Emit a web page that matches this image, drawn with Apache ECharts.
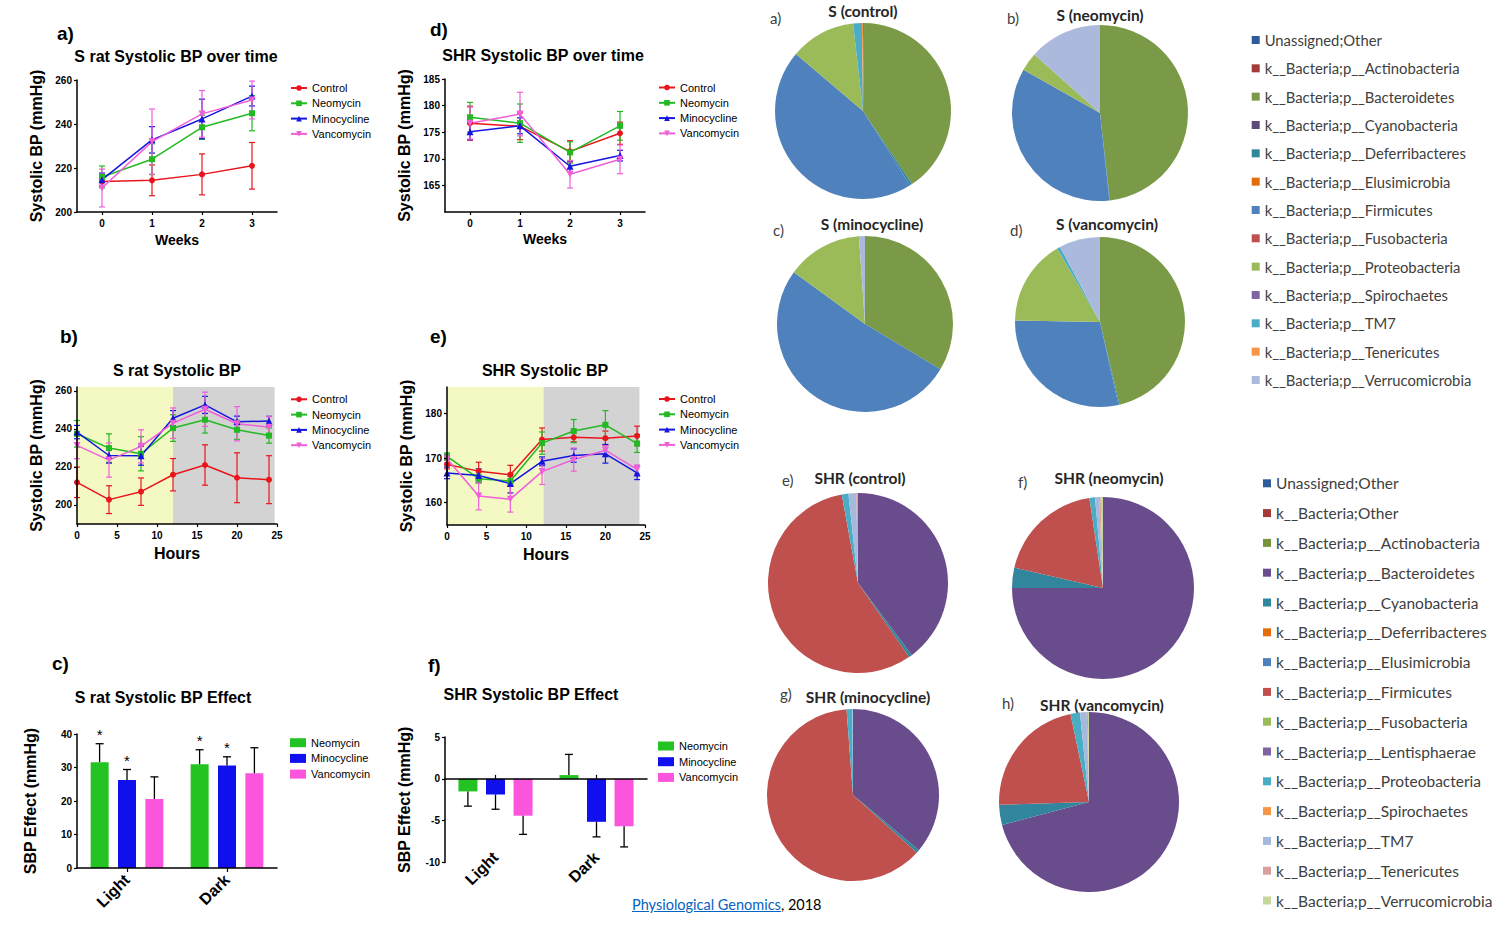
<!DOCTYPE html>
<html>
<head>
<meta charset="utf-8">
<title>Antibiotics, systolic BP and gut phyla in S and SHR rats</title>
<script src="https://cdn.jsdelivr.net/npm/echarts@6/dist/echarts.min.js"></script>
<style>
html, body { margin: 0; padding: 0; background: #fff; }
#page { position: relative; width: 1500px; height: 929px; overflow: hidden; }
.panel { position: absolute; }
#cite { position: absolute; left: 632px; top: 896px; font: 14.5px Lato, sans-serif; line-height: 18px; color: #000; white-space: nowrap; }
#cite a { color: #0563C1; text-decoration: underline; }
</style>
</head>
<body>
<div id="page">
  <div id="pa" class="panel" style="left:0;top:0;width:380px;height:300px"></div>
  <div id="pd" class="panel" style="left:380px;top:0;width:380px;height:300px"></div>
  <div id="pb" class="panel" style="left:0;top:300px;width:380px;height:330px"></div>
  <div id="pe" class="panel" style="left:380px;top:300px;width:380px;height:330px"></div>
  <div id="pc" class="panel" style="left:0;top:630px;width:380px;height:299px"></div>
  <div id="pf" class="panel" style="left:380px;top:630px;width:380px;height:260px"></div>
  <div id="pieS" class="panel" style="left:760px;top:0;width:740px;height:440px"></div>
  <div id="pieSHR" class="panel" style="left:760px;top:440px;width:740px;height:489px"></div>
  <div id="cite"><a href="#">Physiological Genomics</a>, 2018</div>
</div>
<script>
// ---------- data ----------
const drugs = ['Control', 'Neomycin', 'Minocycline', 'Vancomycin'];
const weeks = ['0', '1', '2', '3'];
const hours = [0, 4, 8, 12, 16, 20, 24];

// a) S rat systolic BP over time (mean, SEM)
const sWkControl = [213.9, 214.4, 217.1, 221.0];
const sWkControlErr = [2.0, 7.0, 9.3, 10.6];
const sWkNeomycin = [215.9, 224.0, 238.5, 244.9];
const sWkNeomycinErr = [5.0, 7.0, 5.5, 8.0];
const sWkMinocycline = [214.7, 232.8, 242.3, 252.7];
const sWkMinocyclineErr = [3.0, 6.0, 9.0, 4.5];
const sWkVancomycin = [210.9, 232.0, 244.6, 250.9];
const sWkVancomycinErr = [8.6, 14.8, 10.6, 8.6];

// d) SHR systolic BP over time
const shrWkControl = [176.7, 176.1, 171.4, 174.8];
const shrWkControlErr = [3.2, 2.5, 2.0, 2.1];
const shrWkNeomycin = [177.8, 176.7, 171.2, 176.2];
const shrWkNeomycinErr = [2.8, 3.6, 2.0, 2.7];
const shrWkMinocycline = [175.1, 176.2, 168.6, 170.6];
const shrWkMinocyclineErr = [1.5, 1.5, 1.0, 1.0];
const shrWkVancomycin = [176.7, 178.4, 167.1, 169.9];
const shrWkVancomycinErr = [3.0, 4.1, 2.6, 2.7];

// b) S rat systolic BP over 24 h
const sHrControl = [211.9, 202.8, 207.0, 215.9, 221.0, 214.3, 213.3];
const sHrControlErr = [8.0, 7.3, 7.2, 8.5, 10.6, 13.1, 12.6];
const sHrNeomycin = [237.4, 229.9, 226.9, 240.4, 244.8, 239.5, 236.5];
const sHrNeomycinErr = [7.0, 7.5, 9.0, 7.0, 7.0, 5.0, 4.0];
const sHrMinocycline = [238.3, 226.0, 225.9, 245.6, 252.6, 243.7, 244.1];
const sHrMinocyclineErr = [3.5, 4.0, 5.0, 4.0, 4.5, 3.0, 2.5];
const sHrVancomycin = [231.3, 223.6, 230.8, 243.0, 250.3, 242.7, 240.9];
const sHrVancomycinErr = [7.0, 9.0, 8.7, 8.0, 9.0, 9.0, 5.5];

// e) SHR systolic BP over 24 h
const shrHrControl = [168.6, 167.1, 166.3, 174.2, 174.7, 174.5, 175.0];
const shrHrControlErr = [1.0, 2.0, 2.1, 2.6, 1.0, 1.6, 2.2];
const shrHrNeomycin = [170.4, 165.4, 164.9, 173.4, 176.1, 177.5, 173.3];
const shrHrNeomycinErr = [0.8, 1.0, 1.0, 2.5, 2.6, 3.2, 2.0];
const shrHrMinocycline = [166.7, 166.1, 164.3, 169.3, 170.6, 171.0, 166.7];
const shrHrMinocyclineErr = [1.3, 1.5, 2.1, 1.0, 1.5, 2.1, 1.5];
const shrHrVancomycin = [169.9, 161.5, 160.8, 167.0, 169.7, 171.8, 167.5];
const shrHrVancomycinErr = [1.0, 3.1, 2.9, 2.9, 2.6, 1.0, 1.0];

// light / dark phase (hours)
const sLight = [0, 12], sDark = [12, 24.7];
const shrLight = [0, 12.2], shrDark = [12.2, 24.3];

// c) / f) SBP effect of each antibiotic
const phases = ['Light', 'Dark'];
const effectDrugs = ['Neomycin', 'Minocycline', 'Vancomycin'];
const sEffNeomycin = [31.6, 31.0];
const sEffNeomycinErr = [5.5, 4.3];
const sEffNeomycinSig = [1, 1];
const sEffMinocycline = [26.3, 30.6];
const sEffMinocyclineErr = [3.1, 2.6];
const sEffMinocyclineSig = [1, 1];
const sEffVancomycin = [20.6, 28.3];
const sEffVancomycinErr = [6.6, 7.6];
const sEffVancomycinSig = [0, 0];
const shrEffNeomycin = [-1.5, 0.45];
const shrEffNeomycinErr = [1.76, 2.47];
const shrEffMinocycline = [-1.87, -5.13];
const shrEffMinocyclineErr = [1.76, 1.8];
const shrEffVancomycin = [-4.4, -5.66];
const shrEffVancomycinErr = [2.23, 2.47];

// pies: relative abundance (%) of phyla
const sPhyla = ['Unassigned;Other', 'k__Bacteria;p__Actinobacteria', 'k__Bacteria;p__Bacteroidetes',
  'k__Bacteria;p__Cyanobacteria', 'k__Bacteria;p__Deferribacteres', 'k__Bacteria;p__Elusimicrobia',
  'k__Bacteria;p__Firmicutes', 'k__Bacteria;p__Fusobacteria', 'k__Bacteria;p__Proteobacteria',
  'k__Bacteria;p__Spirochaetes', 'k__Bacteria;p__TM7', 'k__Bacteria;p__Tenericutes',
  'k__Bacteria;p__Verrucomicrobia'];
const sControl = [0.1, 0.1, 40.4, 0, 0.4, 0, 45.2, 0, 12.0, 0, 1.6, 0.2, 0];
const sNeomycin = [0, 0, 48.2, 0, 0.1, 0, 34.9, 0, 3.4, 0, 0, 0, 13.4];
const sMinocycline = [0, 0, 33.6, 0, 0, 0, 51.4, 0, 13.9, 0, 0, 0, 1.1];
const sVancomycin = [0, 0, 46.3, 0, 0.2, 0, 28.8, 0, 16.3, 0, 0.6, 0, 7.8];

const shrPhyla = ['Unassigned;Other', 'k__Bacteria;Other', 'k__Bacteria;p__Actinobacteria',
  'k__Bacteria;p__Bacteroidetes', 'k__Bacteria;p__Cyanobacteria', 'k__Bacteria;p__Deferribacteres',
  'k__Bacteria;p__Elusimicrobia', 'k__Bacteria;p__Firmicutes', 'k__Bacteria;p__Fusobacteria',
  'k__Bacteria;p__Lentisphaerae', 'k__Bacteria;p__Proteobacteria', 'k__Bacteria;p__Spirochaetes',
  'k__Bacteria;p__TM7', 'k__Bacteria;p__Tenericutes', 'k__Bacteria;p__Verrucomicrobia'];
const shrControl = [0, 0, 0, 39.8, 0.6, 0, 0, 56.7, 0, 0, 1.2, 0, 1.4, 0.3, 0];
const shrNeomycin = [0, 0, 0, 75.0, 3.6, 0, 0, 19.0, 0, 0, 1.0, 0, 0.7, 0.3, 0.4];
const shrMinocycline = [0, 0, 0, 36.1, 0.6, 0, 0, 62.1, 0, 0, 1.1, 0, 0.1, 0, 0];
const shrVancomycin = [0, 0, 0, 70.9, 3.6, 0, 0, 22.2, 0, 0, 1.7, 0, 1.2, 0.2, 0.2];

// ---------- styles ----------
const FONT = '"Liberation Sans", Arial, sans-serif';
const PIEFONT = 'Lato, "Open Sans", sans-serif';
const lineColors = ['#E8161C', '#22B922', '#1515E0', '#F05ED8'];
const lineSymbols = ['circle', 'rect', 'triangle', 'triangle'];
const lineSymbolSizes = [6, 6, 7, 7];
const lineSymbolRotate = [0, 0, 0, 180];
const barColors = ['#22C322', '#1010EE', '#FA55DC'];
const sPhylaColors = ['#2E5B9A', '#A33B38', '#7B9A47', '#5F497A', '#31859C', '#E46C0A', '#4F81BD',
  '#C0504D', '#9BBB59', '#8064A2', '#4BACC6', '#F79646', '#AAB9DC'];
const shrPhylaColors = ['#2E5B9A', '#A33B38', '#77933C', '#684C8B', '#31859C', '#E46C0A', '#4F81BD',
  '#C0504D', '#9BBB59', '#8064A2', '#4BACC6', '#F79646', '#A5B9DC', '#D9A0A0', '#C3D69B'];

function axisStyle(extra) {
  const base = {
    axisLine: { show: true, onZero: false, lineStyle: { color: '#000', width: 1.5 } },
    axisTick: { show: true, length: 3, lineStyle: { color: '#000', width: 1.2 } },
    axisLabel: { color: '#000', fontSize: 10, fontWeight: 'bold', fontFamily: FONT, margin: 5 },
    splitLine: { show: false },
    nameLocation: 'middle',
    nameTextStyle: { color: '#000', fontSize: 16, fontWeight: 'bold', fontFamily: FONT },
    z: 5
  };
  Object.keys(extra).forEach(function (k) {
    if (base[k] && typeof base[k] === 'object' && !Array.isArray(extra[k])) {
      base[k] = Object.assign({}, base[k], extra[k]);
    } else {
      base[k] = extra[k];
    }
  });
  return base;
}

function panelTexts(p) {
  return [
    { type: 'text', x: p.labelAt[0], y: p.labelAt[1], silent: true,
      style: { text: p.label, font: 'bold 19px ' + FONT, fill: '#000', align: 'left', verticalAlign: 'middle' } },
    { type: 'text', x: p.titleAt[0], y: p.titleAt[1], silent: true,
      style: { text: p.title, font: 'bold 16px ' + FONT, fill: '#000', align: 'center', verticalAlign: 'middle' } }
  ];
}

// vertical SEM bars with caps for the time courses
function errorBars(cap) {
  return function (params, api) {
    const x = api.value(0);
    const lo = api.coord([x, api.value(1)]);
    const hi = api.coord([x, api.value(2)]);
    const st = { stroke: api.visual('color'), lineWidth: 1.2 };
    return {
      type: 'group',
      children: [
        { type: 'line', shape: { x1: lo[0], y1: lo[1], x2: hi[0], y2: hi[1] }, style: st },
        { type: 'line', shape: { x1: lo[0] - cap, y1: lo[1], x2: lo[0] + cap, y2: lo[1] }, style: st },
        { type: 'line', shape: { x1: hi[0] - cap, y1: hi[1], x2: hi[0] + cap, y2: hi[1] }, style: st }
      ]
    };
  };
}

// one-sided SEM bar on a grouped bar, plus optional significance star
function barErrors(offset) {
  return function (params, api) {
    const v = api.value(1), e = api.value(2);
    const dir = v < 0 ? -1 : 1;
    const a = api.coord([api.value(0), v]);
    const b = api.coord([api.value(0), v + dir * e]);
    const x = a[0] + offset;
    const st = { stroke: '#000', lineWidth: 1.3 };
    const kids = [
      { type: 'line', shape: { x1: x, y1: a[1], x2: x, y2: b[1] }, style: st },
      { type: 'line', shape: { x1: x - 4, y1: b[1], x2: x + 4, y2: b[1] }, style: st }
    ];
    if (api.value(3)) {
      kids.push({ type: 'text', style: { text: '*', x: x, y: b[1] - 9, align: 'center', verticalAlign: 'middle',
        font: '15px ' + FONT, fill: '#000' } });
    }
    return { type: 'group', children: kids };
  };
}

function timeChart(id, p) {
  const chart = echarts.init(document.getElementById(id), null, { renderer: 'svg' });
  const series = [];
  drugs.forEach(function (name, k) {
    const m = p.means[k], e = p.errs[k];
    series.push({
      name: name + ' SEM', type: 'custom', silent: true, z: 2,
      renderItem: errorBars(3), itemStyle: { color: lineColors[k] },
      encode: { x: 0, y: [1, 2] },
      data: p.xs.map(function (x, i) { return [p.cat ? i : x, m[i] - e[i], m[i] + e[i]]; })
    });
    series.push({
      name: name, type: 'line', z: 3, silent: true,
      symbol: lineSymbols[k], symbolSize: lineSymbolSizes[k], symbolRotate: lineSymbolRotate[k],
      itemStyle: { color: lineColors[k] }, lineStyle: { color: lineColors[k], width: 1.5 },
      data: p.xs.map(function (x, i) { return [p.cat ? i : x, m[i]]; })
    });
  });
  if (p.light) {
    series[1].markArea = {
      silent: true,
      data: [
        [{ xAxis: p.light[0], itemStyle: { color: '#F4F9C4' } }, { xAxis: p.light[1] }],
        [{ xAxis: p.dark[0], itemStyle: { color: '#D3D3D3' } }, { xAxis: p.dark[1] }]
      ]
    };
  }
  chart.setOption({
    animation: false,
    textStyle: { fontFamily: FONT },
    grid: p.grid,
    xAxis: p.xAxis,
    yAxis: p.yAxis,
    legend: {
      data: drugs, orient: 'vertical', left: p.legendAt[0], top: p.legendAt[1], padding: 0,
      itemWidth: 16, itemHeight: 7, itemGap: 2.3, selectedMode: false,
      textStyle: { fontFamily: FONT, fontSize: 11, color: '#000', lineHeight: 13 }
    },
    graphic: panelTexts(p),
    series: series
  });
}

function effectChart(id, p) {
  const chart = echarts.init(document.getElementById(id), null, { renderer: 'svg' });
  const series = [];
  effectDrugs.forEach(function (name, k) {
    series.push({
      name: name, type: 'bar', silent: true, xAxisIndex: 0,
      barWidth: p.barWidth, barGap: p.barGap,
      itemStyle: { color: barColors[k] }, data: p.means[k]
    });
  });
  effectDrugs.forEach(function (name, k) {
    series.push({
      name: name + ' SEM', type: 'custom', silent: true, xAxisIndex: 0, z: 4,
      renderItem: barErrors((k - 1) * p.spacing),
      encode: { x: 0, y: 1 },
      data: phases.map(function (c, i) {
        return [i, p.means[k][i], p.errs[k][i], p.sig ? p.sig[k][i] : 0];
      })
    });
  });
  chart.setOption({
    animation: false,
    textStyle: { fontFamily: FONT },
    grid: p.grid,
    xAxis: p.xAxis,
    yAxis: p.yAxis,
    legend: {
      data: effectDrugs, orient: 'vertical', left: p.legendAt[0], top: p.legendAt[1], padding: 0,
      icon: 'rect', itemWidth: 16, itemHeight: 9, itemGap: 2.7, selectedMode: false,
      textStyle: { fontFamily: FONT, fontSize: 11, color: '#000', lineHeight: 13 }
    },
    graphic: panelTexts(p),
    series: series
  });
}

function pieChart(id, p) {
  const chart = echarts.init(document.getElementById(id), null, { renderer: 'svg' });
  const texts = [];
  p.pies.forEach(function (pie) {
    texts.push({ type: 'text', x: pie.labelAt[0], y: pie.labelAt[1], silent: true,
      style: { text: pie.label, font: '15px ' + PIEFONT, fill: '#404040', align: 'left', verticalAlign: 'middle' } });
    texts.push({ type: 'text', x: pie.titleAt[0], y: pie.titleAt[1], silent: true,
      style: { text: pie.title, font: 'bold 15.5px ' + PIEFONT, fill: '#262626', align: 'center', verticalAlign: 'middle' } });
  });
  chart.setOption({
    animation: false,
    legend: {
      data: p.names, orient: 'vertical', left: p.legendAt[0], top: p.legendAt[1], padding: 0,
      icon: 'rect', itemWidth: 8, itemHeight: 8, itemGap: p.legendGap, selectedMode: false,
      textStyle: { fontFamily: PIEFONT, fontSize: p.legendFont, color: '#404040', lineHeight: p.legendLine }
    },
    graphic: texts,
    series: p.pies.map(function (pie) {
      return {
        name: pie.title, type: 'pie', silent: true,
        center: pie.center, radius: pie.r, startAngle: 90, clockwise: true,
        label: { show: false }, labelLine: { show: false }, emphasis: { disabled: true },
        itemStyle: { borderWidth: 0 },
        data: p.names.map(function (n, i) {
          return { name: n, value: pie.values[i], itemStyle: { color: p.colors[i] } };
        })
      };
    })
  });
}

// ---------- a) ----------
timeChart('pa', {
  label: 'a)', labelAt: [57, 33], title: 'S rat Systolic BP over time', titleAt: [176, 56],
  grid: { left: 77, top: 80, width: 200, height: 132 },
  cat: true, xs: weeks,
  xAxis: axisStyle({ type: 'category', data: weeks, boundaryGap: true, name: 'Weeks', nameGap: 21,
    nameTextStyle: { fontSize: 14 }, axisTick: { alignWithLabel: true }, axisLabel: { margin: 6 } }),
  yAxis: axisStyle({ type: 'value', min: 200, max: 260, interval: 20, name: 'Systolic BP (mmHg)', nameGap: 25 }),
  legendAt: [290, 81.5],
  means: [sWkControl, sWkNeomycin, sWkMinocycline, sWkVancomycin],
  errs: [sWkControlErr, sWkNeomycinErr, sWkMinocyclineErr, sWkVancomycinErr]
});

// ---------- d) ----------
timeChart('pd', {
  label: 'd)', labelAt: [50, 29], title: 'SHR Systolic BP over time', titleAt: [163, 55],
  grid: { left: 65, top: 79, width: 200, height: 133 },
  cat: true, xs: weeks,
  xAxis: axisStyle({ type: 'category', data: weeks, boundaryGap: true, name: 'Weeks', nameGap: 20,
    nameTextStyle: { fontSize: 14 }, axisTick: { alignWithLabel: true }, axisLabel: { margin: 6 } }),
  yAxis: axisStyle({ type: 'value', min: 160, max: 185, interval: 5, name: 'Systolic BP (mmHg)', nameGap: 23,
    axisLabel: { showMinLabel: false } }),
  legendAt: [278, 81],
  means: [shrWkControl, shrWkNeomycin, shrWkMinocycline, shrWkVancomycin],
  errs: [shrWkControlErr, shrWkNeomycinErr, shrWkMinocyclineErr, shrWkVancomycinErr]
});

// ---------- b) ----------
timeChart('pb', {
  label: 'b)', labelAt: [60, 36], title: 'S rat Systolic BP', titleAt: [177, 70],
  grid: { left: 77, top: 87, width: 200, height: 137 },
  xs: hours, light: sLight, dark: sDark,
  xAxis: axisStyle({ type: 'value', min: 0, max: 25, interval: 5, name: 'Hours', nameGap: 21, axisLabel: { margin: 6 } }),
  yAxis: axisStyle({ type: 'value', min: 190, max: 262, name: 'Systolic BP (mmHg)', nameGap: 24,
    axisLabel: { customValues: [200, 220, 240, 260] }, axisTick: { customValues: [200, 220, 240, 260] } }),
  legendAt: [290, 92.8],
  means: [sHrControl, sHrNeomycin, sHrMinocycline, sHrVancomycin],
  errs: [sHrControlErr, sHrNeomycinErr, sHrMinocyclineErr, sHrVancomycinErr]
});

// ---------- e) ----------
timeChart('pe', {
  label: 'e)', labelAt: [50, 36], title: 'SHR Systolic BP', titleAt: [165, 70],
  grid: { left: 67, top: 87, width: 198, height: 138 },
  xs: hours, light: shrLight, dark: shrDark,
  xAxis: axisStyle({ type: 'value', min: 0, max: 25, interval: 5, name: 'Hours', nameGap: 21, axisLabel: { margin: 6 } }),
  yAxis: axisStyle({ type: 'value', min: 155, max: 186, name: 'Systolic BP (mmHg)', nameGap: 24,
    axisLabel: { customValues: [160, 170, 180] }, axisTick: { customValues: [160, 170, 180] } }),
  legendAt: [278, 92.5],
  means: [shrHrControl, shrHrNeomycin, shrHrMinocycline, shrHrVancomycin],
  errs: [shrHrControlErr, shrHrNeomycinErr, shrHrMinocyclineErr, shrHrVancomycinErr]
});

// ---------- c) ----------
effectChart('pc', {
  label: 'c)', labelAt: [52, 33], title: 'S rat Systolic BP Effect', titleAt: [163, 67],
  grid: { left: 77, top: 104, width: 200, height: 134 },
  barWidth: 18, barGap: '52%', spacing: 27.4,
  xAxis: [axisStyle({ type: 'category', data: phases, axisTick: { alignWithLabel: true, length: 4 },
    axisLabel: { rotate: 45, fontSize: 16, margin: 9 } })],
  yAxis: axisStyle({ type: 'value', min: 0, max: 40, interval: 10, name: 'SBP Effect (mmHg)', nameGap: 39 }),
  legendAt: [290, 106.2],
  means: [sEffNeomycin, sEffMinocycline, sEffVancomycin],
  errs: [sEffNeomycinErr, sEffMinocyclineErr, sEffVancomycinErr],
  sig: [sEffNeomycinSig, sEffMinocyclineSig, sEffVancomycinSig]
});

// ---------- f) ----------
effectChart('pf', {
  label: 'f)', labelAt: [48, 35], title: 'SHR Systolic BP Effect', titleAt: [151, 64],
  grid: { left: 65, top: 107, width: 202, height: 134 },
  barWidth: 19, barGap: '45%', spacing: 27.6,
  xAxis: [
    axisStyle({ type: 'category', data: phases, axisLine: { show: false }, axisTick: { show: false },
      axisLabel: { rotate: 45, fontSize: 16, margin: -8 } }),
    axisStyle({ type: 'category', data: phases, axisLine: { onZero: true }, axisTick: { alignWithLabel: true, length: 4 },
      axisLabel: { show: false } })
  ],
  yAxis: axisStyle({ type: 'value', min: -10, max: 5, interval: 5, name: 'SBP Effect (mmHg)', nameGap: 33 }),
  legendAt: [278, 109.5],
  means: [shrEffNeomycin, shrEffMinocycline, shrEffVancomycin],
  errs: [shrEffNeomycinErr, shrEffMinocyclineErr, shrEffVancomycinErr]
});

// ---------- S rat pies ----------
pieChart('pieS', {
  names: sPhyla, colors: sPhylaColors,
  legendAt: [491.7, 31.5], legendGap: 11.33, legendFont: 14.8, legendLine: 17,
  pies: [
    { label: 'a)', labelAt: [10, 18], title: 'S (control)', titleAt: [103, 11], center: [103, 111], r: 88, values: sControl },
    { label: 'b)', labelAt: [247, 18], title: 'S (neomycin)', titleAt: [340, 15], center: [340, 113], r: 88, values: sNeomycin },
    { label: 'c)', labelAt: [13, 230], title: 'S (minocycline)', titleAt: [112, 224], center: [105, 324], r: 88, values: sMinocycline },
    { label: 'd)', labelAt: [250, 230], title: 'S (vancomycin)', titleAt: [347, 224], center: [340, 322], r: 85, values: sVancomycin }
  ]
});

// ---------- SHR pies ----------
pieChart('pieSHR', {
  names: shrPhyla, colors: shrPhylaColors,
  legendAt: [503, 34.3], legendGap: 11.8, legendFont: 15.5, legendLine: 18,
  pies: [
    { label: 'e)', labelAt: [22, 40], title: 'SHR (control)', titleAt: [100, 38], center: [98, 143], r: 90, values: shrControl },
    { label: 'f)', labelAt: [258, 42], title: 'SHR (neomycin)', titleAt: [349, 38], center: [343, 148], r: 91, values: shrNeomycin },
    { label: 'g)', labelAt: [20, 254], title: 'SHR (minocycline)', titleAt: [108, 257], center: [93, 355], r: 86, values: shrMinocycline },
    { label: 'h)', labelAt: [242, 263], title: 'SHR (vancomycin)', titleAt: [342, 265], center: [329, 362], r: 90, values: shrVancomycin }
  ]
});
</script>
</body>
</html>
